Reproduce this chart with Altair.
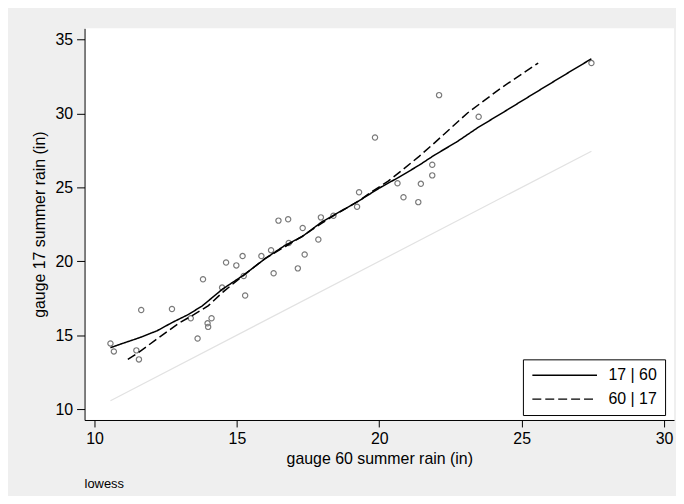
import altair as alt
import pandas as pd

# scatter: gauge 60 (x) vs gauge 17 (y), summer rain in inches
x60 = [10.56, 10.68, 11.64, 11.47, 11.56, 12.72, 13.38, 13.62, 13.81, 13.97,
       13.99, 14.11, 14.48, 14.62, 14.98, 15.20, 15.24, 15.29, 15.86, 16.20,
       16.29, 16.46, 16.80, 16.82, 17.14, 17.31, 17.38, 17.86, 17.95, 18.39,
       19.22, 19.29, 19.85, 20.64, 20.85, 21.37, 21.46, 21.86, 21.86, 22.10,
       23.49, 27.45]
y17 = [14.44, 13.90, 16.70, 13.97, 13.36, 16.77, 16.14, 14.77, 18.78, 15.80,
       15.56, 16.14, 18.22, 19.92, 19.72, 20.35, 19.00, 17.68, 20.35, 20.75,
       19.19, 22.75, 22.84, 21.24, 19.52, 22.25, 20.46, 21.47, 22.97, 23.08,
       23.69, 24.67, 28.37, 25.28, 24.33, 24.00, 25.24, 26.53, 25.81, 31.24,
       29.78, 33.41]

# lowess of 17 on 60
s1_x = [10.56, 11.00, 11.57, 12.20, 12.74, 13.30, 13.79, 14.49, 15.24, 16.00,
        16.70, 17.28, 17.98, 18.45, 19.27, 20.00, 20.70, 21.40, 21.95, 22.70,
        23.46, 24.50, 25.56, 26.50, 27.45]
s1_y = [14.15, 14.45, 14.82, 15.30, 15.87, 16.40, 16.99, 18.11, 19.07, 20.19,
        21.09, 21.65, 22.66, 23.17, 24.07, 24.95, 25.70, 26.50, 27.20, 28.05,
        29.04, 30.25, 31.50, 32.60, 33.70]

# lowess of 60 on 17 (plotted with smoothed 60 on x)
s2_x = [11.17, 11.60, 12.16, 12.97, 13.50, 14.00, 14.50, 15.20, 16.00, 16.70,
        17.30, 18.00, 18.50, 19.30, 19.73, 20.30, 20.78, 21.40, 21.95, 23.11,
        24.28, 25.58]
s2_y = [13.36, 13.90, 14.70, 15.82, 16.40, 17.00, 17.90, 19.00, 20.20, 21.00,
        21.70, 22.60, 23.20, 24.10, 24.70, 25.40, 26.13, 27.10, 28.03, 30.05,
        31.73, 33.41]

diag = [10.56, 27.45]

series_names = ["17 | 60", "60 | 17"]
x_ticks = [10, 15, 20, 25, 30]
y_ticks = [10, 15, 20, 25, 30, 35]

FONT = "Liberation Sans"

pts = pd.DataFrame({"x": x60, "y": y17})
lines = pd.DataFrame({
    "x": s1_x + s2_x,
    "y": s1_y + s2_y,
    "s": [series_names[0]] * len(s1_x) + [series_names[1]] * len(s2_x),
    "i": list(range(len(s1_x))) + list(range(len(s2_x))),
})
dg = pd.DataFrame({"x": diag, "y": diag})

xs = alt.Scale(domain=[9.65, 30.35], nice=False, zero=False)
ys = alt.Scale(domain=[9.26, 35.76], nice=False, zero=False)

xax = alt.Axis(values=x_ticks, title="gauge 60 summer rain (in)", tickSize=7,
               labelPadding=4, titlePadding=4)
yax = alt.Axis(values=y_ticks, title="gauge 17 summer rain (in)", tickSize=8,
               labelPadding=4, titlePadding=7)

diag_layer = alt.Chart(dg).mark_line(color="#e2e2e2", strokeWidth=1.2).encode(
    x=alt.X("x:Q", scale=xs, axis=xax),
    y=alt.Y("y:Q", scale=ys, axis=yax),
)

pts_layer = alt.Chart(pts).mark_point(
    shape="circle", filled=False, size=28, color="#7a7a7a", strokeWidth=1.2, opacity=1
).encode(
    x=alt.X("x:Q", scale=xs, axis=xax),
    y=alt.Y("y:Q", scale=ys, axis=yax),
)

line_layer = alt.Chart(lines).mark_line(color="black", strokeWidth=1.5).encode(
    x=alt.X("x:Q", scale=xs, axis=xax),
    y=alt.Y("y:Q", scale=ys, axis=yax),
    order="i:Q",
    strokeDash=alt.StrokeDash(
        "s:N",
        scale=alt.Scale(domain=series_names, range=[[1, 0], [9, 4]]),
        legend=alt.Legend(
            title=None, orient="none", legendX=441, legendY=333,
            direction="vertical", symbolType="M-1,0H9", symbolSize=169,
            symbolStrokeWidth=1.3, symbolStrokeColor="black",
            labelFontSize=16, labelFont=FONT, labelColor="black",
            labelOffset=62, padding=8, rowPadding=8,
            strokeColor="black", fillColor="white",
        ),
    ),
)

chart = alt.layer(diag_layer, pts_layer, line_layer).properties(
    width=593,
    height=394,
    autosize=alt.AutoSizeParams(type="none"),
    padding={"left": 77, "top": 19, "right": 2, "bottom": 75},
    background="#efefef",
    title=alt.TitleParams("lowess", orient="bottom", anchor="start", frame="group",
                          fontSize=13, font=FONT, fontWeight="normal",
                          color="black", offset=11),
).configure_view(
    fill="white", stroke=None
).configure_axis(
    grid=False, domainColor="black", tickColor="black", labelColor="black",
    titleColor="black", labelFont=FONT, titleFont=FONT, labelFontSize=16,
    titleFontSize=16, titleFontWeight="normal", domainWidth=1, tickWidth=1,
)

chart.save("out.html", embed_options={"renderer": "svg", "actions": False})
